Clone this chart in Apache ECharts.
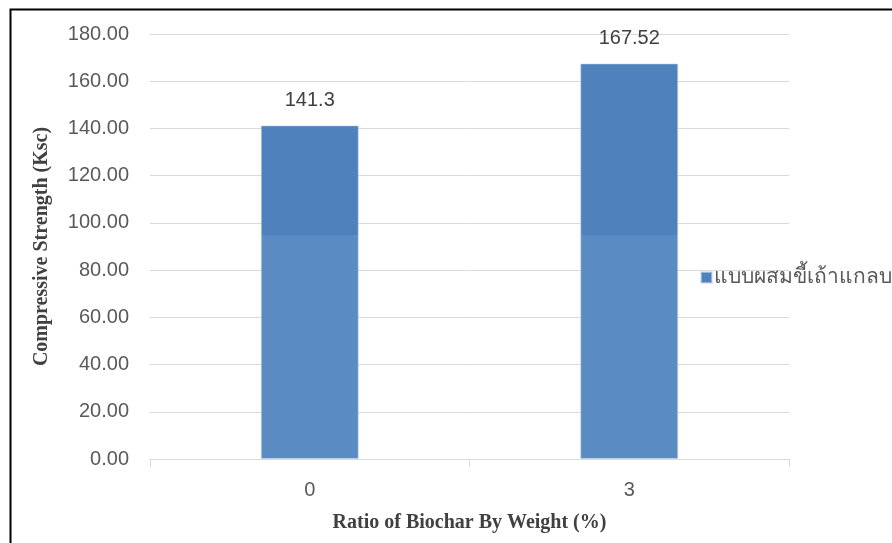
<!DOCTYPE html>
<html><head><meta charset="utf-8">
<script src="https://cdn.jsdelivr.net/npm/echarts@6/dist/echarts.min.js"></script>
<style>html,body{margin:0;padding:0;background:#fff}#c{width:892px;height:543px}</style>
</head><body><div id="c"></div>
<script>
const categories = ['0', '3'];
const seriesName = 'แบบผสมขี้เถ้าแกลบ';
const values = [141.3, 167.52];
const yTicks = { min: 0, max: 180, interval: 20 };
const xTitle = 'Ratio of Biochar By Weight (%)';
const yTitle = 'Compressive Strength (Ksc)';

const chart = echarts.init(document.getElementById('c'), null, { renderer: 'canvas' });
const barColor = {
  type: 'linear', x: 0, y: 0, x2: 0, y2: 543, global: true,
  colorStops: [
    { offset: 0, color: '#4f81bd' },
    { offset: 0.4327, color: '#4f81bd' },
    { offset: 0.4328, color: '#5b8bc3' },
    { offset: 1, color: '#5b8bc3' }
  ]
};
chart.setOption({
  backgroundColor: '#ffffff',
  animation: false,
  graphic: [{
    type: 'rect', left: 8, top: 7, silent: true,
    shape: { width: 1000, height: 700 },
    style: { fill: 'none', stroke: '#000', lineWidth: 2 }
  }],
  grid: { left: 150, right: 103, top: 34, bottom: 84, containLabel: false },
  legend: {
    data: [seriesName], left: 695, top: 262, orient: 'vertical',
    itemWidth: 11, itemHeight: 11, itemGap: 6,
    icon: 'rect',
    textStyle: { color: '#595959', fontSize: 21, fontFamily: 'Noto Sans, sans-serif', padding: [0, 0, 0, -3] }
  },
  xAxis: {
    type: 'category', data: categories,
    name: xTitle, nameLocation: 'middle', nameGap: 54,
    nameTextStyle: { fontFamily: 'Liberation Serif, serif', fontWeight: 'bold', fontSize: 20, color: '#404040' },
    axisLine: { lineStyle: { color: '#d9d9d9', width: 1 } },
    axisTick: { show: true, length: 8, lineStyle: { color: '#d9d9d9' }, alignWithLabel: false },
    axisLabel: { color: '#595959', fontSize: 20, fontFamily: 'Liberation Sans, sans-serif', margin: 21 }
  },
  yAxis: {
    type: 'value', min: yTicks.min, max: yTicks.max, interval: yTicks.interval,
    name: yTitle, nameLocation: 'middle', nameGap: 98, nameRotate: 90,
    nameTextStyle: { fontFamily: 'Liberation Serif, serif', fontWeight: 'bold', fontSize: 20, color: '#404040' },
    axisLine: { show: false }, axisTick: { show: false },
    splitLine: { lineStyle: { color: '#d9d9d9', width: 1 } },
    axisLabel: { color: '#595959', fontSize: 20, fontFamily: 'Liberation Sans, sans-serif', margin: 21,
      formatter: v => v.toFixed(2) }
  },
  series: [{
    type: 'bar', name: seriesName, data: values, barWidth: 98,
    itemStyle: { color: barColor, borderColor: 'rgba(200,215,235,0.6)', borderWidth: 1 },
    label: { show: true, position: 'top', distance: 15, color: '#404040', fontSize: 20,
      fontFamily: 'Liberation Sans, sans-serif' }
  }]
});
</script></body></html>
